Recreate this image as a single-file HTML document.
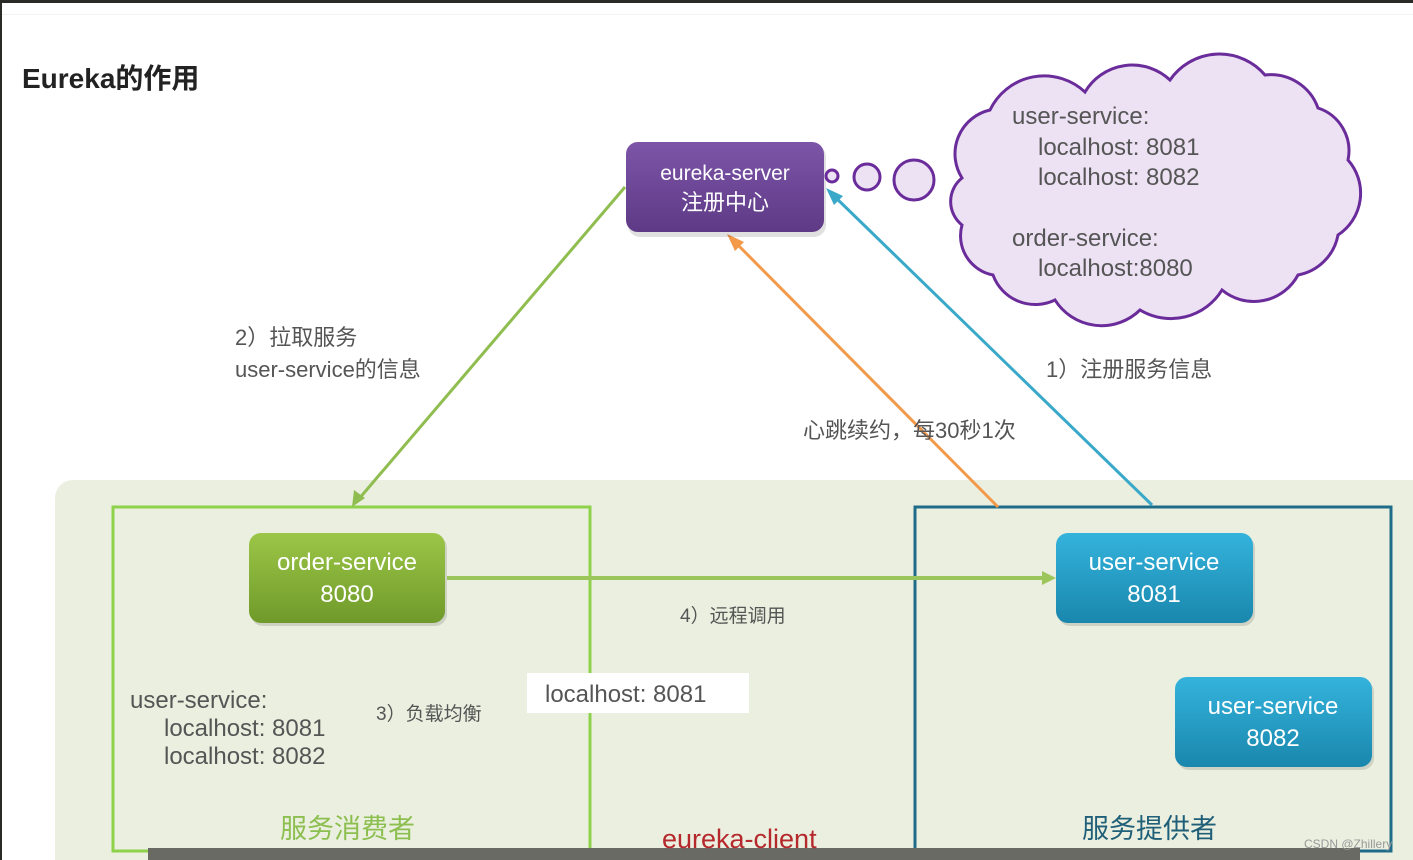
<!DOCTYPE html>
<html><head><meta charset="utf-8"><style>
html,body{margin:0;padding:0;background:#fff;}
svg{display:block;}
text{font-family:"Liberation Sans","Noto Sans CJK SC",sans-serif;}
</style></head><body>
<svg width="1413" height="860" viewBox="0 0 1413 860" xmlns="http://www.w3.org/2000/svg">
<defs>
<linearGradient id="gp" x1="0" y1="0" x2="0" y2="1"><stop offset="0" stop-color="#7d55a8"/><stop offset="1" stop-color="#5e3a86"/></linearGradient>
<linearGradient id="gg" x1="0" y1="0" x2="0" y2="1"><stop offset="0" stop-color="#9cc647"/><stop offset="1" stop-color="#6f9a2a"/></linearGradient>
<linearGradient id="gb" x1="0" y1="0" x2="0" y2="1"><stop offset="0" stop-color="#34b3dc"/><stop offset="1" stop-color="#1a87ad"/></linearGradient>
</defs>
<rect x="0" y="0" width="1413" height="3" fill="#2a2a26"/>
<rect x="0" y="0" width="2" height="860" fill="#2a2a26"/>
<rect x="2" y="14" width="1411" height="1" fill="#f2f2f2"/>
<text x="22" y="88" font-size="28" font-weight="bold" fill="#222">Eureka的作用</text>

<!-- bottom panel -->
<rect x="55" y="480" width="1380" height="400" rx="18" fill="#ebefe0"/>
<rect x="113" y="507" width="477" height="344" fill="none" stroke="#8ed24c" stroke-width="3"/>
<rect x="915" y="507" width="476" height="344" fill="none" stroke="#1f6c8a" stroke-width="3"/>

<!-- lines -->
<g stroke-width="3" fill="none">
<line x1="625" y1="187" x2="358" y2="500" stroke="#8fbd4f"/>
<polygon points="352,507 354,490 365,498" fill="#8fbd4f" stroke="none"/>
<line x1="998" y1="507" x2="733" y2="240" stroke="#f39a4a"/>
<polygon points="727,234 744,242 735,251" fill="#f39a4a" stroke="none"/>
<line x1="1152" y1="505" x2="832" y2="194" stroke="#3aa9c9"/>
<polygon points="826,188 843,196 834,205" fill="#3aa9c9" stroke="none"/>
<line x1="447" y1="578" x2="1045" y2="578" stroke="#9cc55c" stroke-width="4"/>
<polygon points="1056,578 1042,571 1042,585" fill="#9cc55c" stroke="none"/>
</g>

<!-- eureka server -->
<rect x="628" y="145" width="198" height="92" rx="12" fill="#000" opacity="0.12"/>
<rect x="626" y="142" width="198" height="90" rx="12" fill="url(#gp)"/>
<text x="725" y="180" font-size="21" fill="#fff" text-anchor="middle">eureka-server</text>
<text x="725" y="210" font-size="22" fill="#fff" text-anchor="middle">注册中心</text>

<!-- thought circles -->
<g fill="#ece2f3" stroke="#6b2c9b" stroke-width="3">
<circle cx="832" cy="176" r="6"/>
<circle cx="867" cy="177" r="13"/>
<circle cx="914" cy="180" r="20"/>
<path d="M962,178 A45,45 0 0 1 990,110 A60,60 0 0 1 1085,92 A55,55 0 0 1 1170,80 A60,60 0 0 1 1265,75 A50,50 0 0 1 1318,108 A45,45 0 0 1 1348,160 A50,50 0 0 1 1338,235 A50,50 0 0 1 1298,275 A50,50 0 0 1 1222,290 A60,60 0 0 1 1140,310 A55,55 0 0 1 1055,300 A45,45 0 0 1 993,275 A40,40 0 0 1 962,225 A30,30 0 0 1 962,178 Z"/>
</g>
<g font-size="24" fill="#555">
<text x="1012" y="124">user-service:</text>
<text x="1038" y="155">localhost: 8081</text>
<text x="1038" y="185">localhost: 8082</text>
<text x="1012" y="246">order-service:</text>
<text x="1038" y="276">localhost:8080</text>
</g>

<!-- labels -->
<g font-size="22" fill="#555">
<text x="235" y="345">2）拉取服务</text>
<text x="235" y="377">user-service的信息</text>
<text x="1046" y="377">1）注册服务信息</text>
<text x="803" y="438">心跳续约，每30秒1次</text>
</g>

<!-- order-service -->
<rect x="251" y="536" width="196" height="90" rx="12" fill="#000" opacity="0.12"/>
<rect x="249" y="533" width="196" height="90" rx="12" fill="url(#gg)"/>
<text x="347" y="570" font-size="24" fill="#fff" text-anchor="middle">order-service</text>
<text x="347" y="602" font-size="24" fill="#fff" text-anchor="middle">8080</text>

<!-- user-service 8081 -->
<rect x="1058" y="536" width="197" height="90" rx="12" fill="#000" opacity="0.12"/>
<rect x="1056" y="533" width="197" height="90" rx="12" fill="url(#gb)"/>
<text x="1154" y="570" font-size="24" fill="#fff" text-anchor="middle">user-service</text>
<text x="1154" y="602" font-size="24" fill="#fff" text-anchor="middle">8081</text>

<!-- user-service 8082 -->
<rect x="1177" y="680" width="197" height="90" rx="12" fill="#000" opacity="0.12"/>
<rect x="1175" y="677" width="197" height="90" rx="12" fill="url(#gb)"/>
<text x="1273" y="714" font-size="24" fill="#fff" text-anchor="middle">user-service</text>
<text x="1273" y="746" font-size="24" fill="#fff" text-anchor="middle">8082</text>

<text x="680" y="622" font-size="19" fill="#555">4）远程调用</text>
<text x="376" y="720" font-size="19" fill="#555">3）负载均衡</text>
<rect x="527" y="673" width="222" height="40" fill="#fff"/>
<text x="545" y="702" font-size="24" fill="#555">localhost: 8081</text>

<g font-size="24" fill="#555">
<text x="130" y="708">user-service:</text>
<text x="164" y="736">localhost: 8081</text>
<text x="164" y="764">localhost: 8082</text>
</g>
<text x="280" y="838" font-size="27" fill="#8cbf4f">服务消费者</text>
<text x="1082" y="838" font-size="27" fill="#1f5f78">服务提供者</text>

<rect x="148" y="848" width="1212" height="12" fill="#6a6a64"/>
<text x="662" y="848" font-size="27" fill="#b5282c">eureka-client</text>
<text x="1304" y="848" font-size="12" fill="#999">CSDN @Zhillery</text>
</svg>
</body></html>
